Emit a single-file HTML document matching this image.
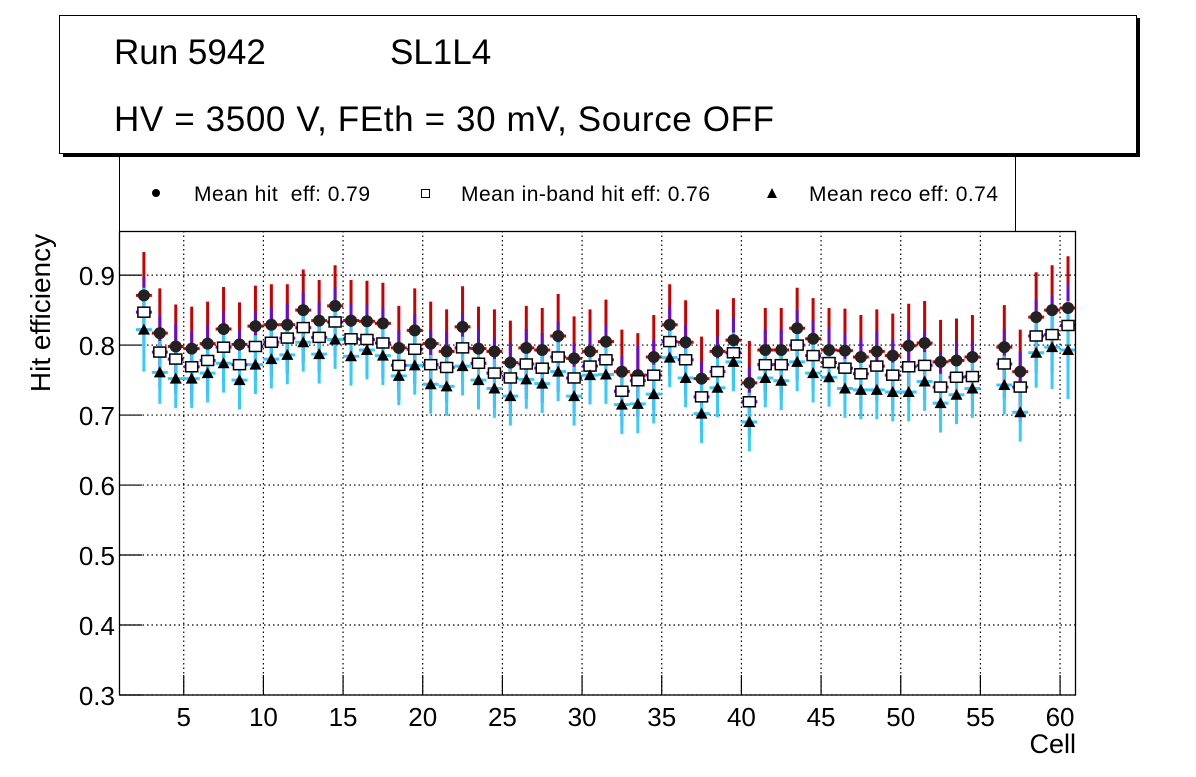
<!DOCTYPE html>
<html><head><meta charset="utf-8"><style>
body{margin:0;background:#fff;width:1196px;height:772px;overflow:hidden}
svg{font-family:"Liberation Sans",sans-serif}
</style></head><body>
<svg id="chart" width="1196" height="772">
<rect x="63" y="18" width="1077" height="139" fill="#000"/>
<rect x="59.5" y="15.5" width="1077" height="138" fill="#fff" stroke="#000" stroke-width="1"/>
<text x="114" y="64" font-size="35">Run 5942</text>
<text x="390" y="64" font-size="35">SL1L4</text>
<text x="114" y="131" font-size="35" textLength="660">HV = 3500 V, FEth = 30 mV, Source OFF</text>
<g>
<line x1="119.5" y1="157" x2="119.5" y2="231" stroke="#000"/>
<line x1="1015.5" y1="157" x2="1015.5" y2="231" stroke="#000"/>
<circle cx="156" cy="193" r="4" fill="#000"/>
<text x="194" y="201" font-size="21" xml:space="preserve" style="white-space:pre" textLength="176">Mean hit  eff: 0.79</text>
<rect x="421.5" y="189.5" width="8" height="8" fill="#fff" stroke="#000"/>
<text x="461" y="201" font-size="21" textLength="249">Mean in-band hit eff: 0.76</text>
<polygon points="772,188 767,198 777,198" fill="#000"/>
<text x="809" y="201" font-size="21" textLength="189">Mean reco eff: 0.74</text>
</g>
<g id="grid"></g>
<g id="marks"></g>
<rect x="119.5" y="231.5" width="956" height="463.5" fill="none" stroke="#000" stroke-width="1.3"/>
<g id="axes"></g>
<text x="50" y="313" font-size="28" text-anchor="middle" transform="rotate(-90 50 313)">Hit efficiency</text>
<text x="1076" y="753" font-size="27" text-anchor="end">Cell</text>
</svg>
<script>
const cells=[2,3,4,5,6,7,8,9,10,11,12,13,14,15,16,17,18,19,20,21,22,23,24,25,26,27,28,29,30,31,32,33,34,35,36,37,38,39,40,41,42,43,44,45,46,47,48,49,50,51,52,53,54,56,57,58,59,60];
const hitEff=[0.871,0.817,0.798,0.795,0.802,0.823,0.801,0.827,0.829,0.829,0.850,0.835,0.856,0.835,0.834,0.831,0.796,0.821,0.802,0.791,0.826,0.795,0.791,0.775,0.796,0.793,0.813,0.781,0.791,0.805,0.762,0.757,0.783,0.829,0.804,0.752,0.791,0.807,0.746,0.793,0.793,0.824,0.809,0.793,0.792,0.783,0.791,0.785,0.799,0.803,0.776,0.778,0.783,0.797,0.762,0.840,0.850,0.853];
const inbandEff=[0.847,0.790,0.780,0.769,0.778,0.797,0.772,0.798,0.804,0.810,0.825,0.811,0.833,0.809,0.808,0.803,0.771,0.794,0.772,0.768,0.796,0.774,0.760,0.753,0.773,0.767,0.783,0.753,0.770,0.779,0.734,0.749,0.757,0.805,0.779,0.726,0.762,0.789,0.719,0.772,0.772,0.800,0.785,0.775,0.767,0.759,0.770,0.757,0.769,0.771,0.740,0.754,0.755,0.773,0.740,0.813,0.815,0.828];
const recoEff=[0.822,0.761,0.752,0.752,0.760,0.774,0.750,0.772,0.780,0.786,0.804,0.787,0.808,0.784,0.793,0.785,0.756,0.771,0.744,0.741,0.770,0.750,0.738,0.727,0.751,0.745,0.762,0.727,0.757,0.758,0.715,0.716,0.730,0.782,0.753,0.702,0.739,0.776,0.690,0.753,0.749,0.776,0.760,0.754,0.738,0.736,0.736,0.733,0.733,0.748,0.717,0.729,0.738,0.743,0.704,0.789,0.797,0.793];
const hitErr=[0.062,0.064,0.06,0.06,0.06,0.06,0.06,0.058,0.058,0.058,0.058,0.058,0.058,0.058,0.058,0.058,0.06,0.06,0.06,0.06,0.058,0.06,0.06,0.06,0.06,0.06,0.06,0.06,0.06,0.06,0.06,0.06,0.06,0.058,0.06,0.06,0.06,0.06,0.06,0.06,0.06,0.058,0.058,0.06,0.06,0.06,0.06,0.06,0.06,0.06,0.06,0.06,0.06,0.06,0.06,0.064,0.064,0.074];
const inbandErr=[0.05,0.052,0.05,0.05,0.05,0.05,0.05,0.05,0.05,0.05,0.05,0.05,0.05,0.05,0.05,0.05,0.05,0.05,0.05,0.05,0.05,0.05,0.05,0.05,0.05,0.05,0.05,0.05,0.05,0.05,0.05,0.05,0.05,0.05,0.05,0.05,0.05,0.05,0.05,0.05,0.05,0.05,0.05,0.05,0.05,0.05,0.05,0.05,0.05,0.05,0.05,0.05,0.05,0.05,0.05,0.052,0.055,0.06];
const recoErr=[0.06,0.045,0.042,0.042,0.042,0.042,0.042,0.042,0.042,0.042,0.042,0.042,0.042,0.042,0.042,0.042,0.042,0.042,0.042,0.042,0.042,0.042,0.042,0.042,0.042,0.042,0.042,0.042,0.042,0.042,0.042,0.042,0.042,0.042,0.042,0.042,0.042,0.042,0.042,0.042,0.042,0.042,0.042,0.042,0.042,0.042,0.042,0.042,0.042,0.042,0.042,0.042,0.042,0.042,0.042,0.05,0.06,0.07];
const xTicks=[5,10,15,20,25,30,35,40,45,50,55,60];
const yTicks=[0.3,0.4,0.5,0.6,0.7,0.8,0.9];
const yTickLabels=["0.3","0.4","0.5","0.6","0.7","0.8","0.9"];

const X0=120,X1=1076,Y0=695,Y1=231,XMIN=1,XMAX=61,YMIN=0.3,YMAX=0.963;
const sx=c=>X0+(c-XMIN)/(XMAX-XMIN)*(X1-X0);
const sy=v=>Y0-(v-YMIN)/(YMAX-YMIN)*(Y0-Y1);
const NS="http://www.w3.org/2000/svg";
function mk(parent,tag,attrs){const e=document.createElementNS(NS,tag);for(const k in attrs)e.setAttribute(k,attrs[k]);parent.appendChild(e);return e;}
const grid=document.getElementById('grid'),marks=document.getElementById('marks'),axes=document.getElementById('axes');
xTicks.forEach(t=>{
  const g=mk(grid,'line',{x1:sx(t),x2:sx(t),y1:Y1,y2:Y0,stroke:'#000','stroke-dasharray':'1.5,3','stroke-width':1.2});
  
  
  const tk=mk(axes,'line',{x1:sx(t),x2:sx(t),y1:Y0,y2:Y0-20,stroke:'#000','stroke-width':1.2});
  
  
  const lb=mk(axes,'text',{x:sx(t),y:Y0+31,'font-size':26,'text-anchor':'middle'});
  lb.textContent=t;
  
  
});
yTicks.forEach((t,i)=>{
  const g=mk(grid,'line',{x1:X0,x2:X1,y1:sy(t),y2:sy(t),stroke:'#000','stroke-dasharray':'1.5,3','stroke-width':1.2});
  
  
  const tk=mk(axes,'line',{x1:X0,x2:X0+22,y1:sy(t),y2:sy(t),stroke:'#000','stroke-width':1.2});
  
  
  const lb=mk(axes,'text',{x:X0-5,y:sy(t)+10,'font-size':26,'text-anchor':'end'});
  lb.textContent=yTickLabels[i];
  
  
});
function errbar(vals,errs,color,name){
  cells.forEach((c,i)=>{
    const cx=sx(c+0.5),hw=(sx(1)-sx(0))/2;
    const v=mk(marks,'line',{x1:cx,x2:cx,y1:sy(vals[i]-errs[i]),y2:sy(vals[i]+errs[i]),stroke:color,'stroke-width':3});
    
    
    const h=mk(marks,'line',{x1:cx-hw,x2:cx+hw,y1:sy(vals[i]),y2:sy(vals[i]),stroke:color,'stroke-width':3});
    
    
  });
}
errbar(hitEff,hitErr,'#cc0000','hit');
errbar(inbandEff,inbandErr,'#6a0ccc','inband');
errbar(recoEff,recoErr,'#33ccff','reco');
cells.forEach((c,i)=>{
  const cx=sx(c+0.5);
  const p=mk(marks,'circle',{cx:cx,cy:sy(hitEff[i]),r:6,fill:'#222'});
  
  
  const s=mk(marks,'rect',{x:cx-6,y:sy(inbandEff[i])-5,width:12,height:10,fill:'#fff',stroke:'#000','stroke-width':1.5});
  
  
  const y=sy(recoEff[i]);
  const t=mk(marks,'polygon',{points:`${cx},${y-6} ${cx-6},${y+5} ${cx+6},${y+5}`,fill:'#000'});
  
  
});
</script>
</body></html>
